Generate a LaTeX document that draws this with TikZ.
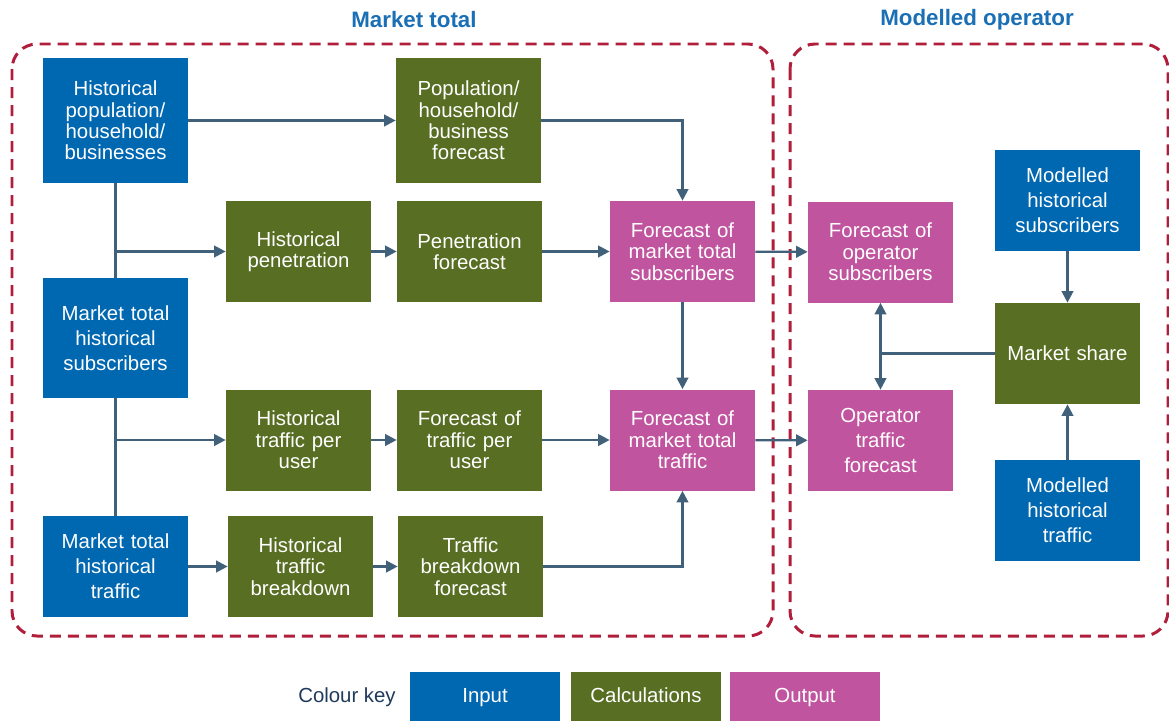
\documentclass[tikz,border=0pt]{standalone}
\usepackage{fontspec}
\setmainfont{Liberation Sans}
\usetikzlibrary{arrows.meta}
\definecolor{inblue}{HTML}{0067B1}
\definecolor{calcgreen}{HTML}{586E23}
\definecolor{outpink}{HTML}{C0549E}
\definecolor{linkgrey}{HTML}{41607A}
\definecolor{framered}{HTML}{B01E3C}
\definecolor{titleblue}{HTML}{1A6FB5}
\definecolor{keynavy}{HTML}{1F3A5A}

\begin{document}
\begin{tikzpicture}[
  every node/.style={font=\fontsize{11.6}{12.2}\selectfont,align=center,text=white,
    minimum width=2.9cm,minimum height=2.02cm,inner sep=1pt,text width=2.8cm},
  loose/.style={font=\fontsize{11.6}{14.2}\selectfont},
  inbox/.style={fill=inblue,loose},
  calcbox/.style={fill=calcgreen},
  outbox/.style={fill=outpink},
  link/.style={draw=linkgrey,line width=1.3pt,-{Triangle[length=2.3mm,width=2.3mm]}},
  plainlink/.style={draw=linkgrey,line width=1.3pt},
  frame/.style={draw=framered,line width=1.7pt,dash pattern=on 2.2mm off 1.4mm,rounded corners=0.5cm},
  title/.style={font=\fontsize{12.7}{14}\bfseries,text=titleblue,minimum width=0,minimum height=0,text width=},
  keybox/.style={minimum width=3cm,minimum height=1cm,text width=,text height=8.4pt,text depth=2.6pt}
]
\useasboundingbox (0,0) rectangle (23.38,-14.4);

\draw[frame] (0.24,-0.88) rectangle (15.46,-12.72);
\draw[frame] (15.8,-0.88) rectangle (23.36,-12.72);
\node[title] (ttlmarket) at (8.28,-0.4) {Market total};
\node[title] (ttlop) at (19.54,-0.4) {Modelled operator};

\node[inbox,minimum height=2.5cm,font=\fontsize{11.6}{12.2}\selectfont] (histpop) at (2.31,-2.41) {Historical\\population/\\household/\\businesses};
\node[calcbox,minimum height=2.5cm] (popfc) at (9.37,-2.41) {Population/\\household/\\business\\forecast};
\node[calcbox] (histpen) at (5.97,-5.03) {Historical\\penetration};
\node[calcbox] (penfc) at (9.39,-5.03) {Penetration\\forecast};
\node[outbox] (mktsubs) at (13.65,-5.03) {Forecast of\\market total\\subscribers};
\node[inbox,minimum height=2.4cm] (histsubs) at (2.31,-6.76) {Market total\\historical\\subscribers};
\node[calcbox] (histtpu) at (5.97,-8.8) {Historical\\traffic per\\user};
\node[calcbox] (fctpu) at (9.39,-8.8) {Forecast of\\traffic per\\user};
\node[outbox] (mkttraffic) at (13.65,-8.8) {Forecast of\\market total\\traffic};
\node[inbox] (histtraffic) at (2.31,-11.33) {Market total\\historical\\traffic};
\node[calcbox] (histtb) at (6.01,-11.33) {Historical\\traffic\\breakdown};
\node[calcbox] (tbfc) at (9.41,-11.33) {Traffic\\breakdown\\forecast};

\node[outbox] (opsubs) at (17.61,-5.04) {Forecast of\\operator\\subscribers};
\node[outbox,loose] (optraffic) at (17.61,-8.81) {Operator\\traffic\\forecast};
\node[inbox] (modsubs) at (21.35,-4.01) {Modelled\\historical\\subscribers};
\node[calcbox] (mktshare) at (21.35,-7.07) {Market share};
\node[inbox] (modtraffic) at (21.35,-10.21) {Modelled\\historical\\traffic};

\draw[link] (histpop) -- (popfc);
\draw[plainlink] (histpop) -- (histsubs);
\draw[plainlink] (histsubs) -- (histtraffic);
\draw[link] (histpop.south |- histpen.west) -- (histpen);
\draw[link] (histsubs.south |- histtpu.west) -- (histtpu);
\draw[link] (histpen) -- (penfc);
\draw[link] (penfc) -- (mktsubs);
\draw[link] (popfc.east) -| (mktsubs.north);
\draw[link] (mktsubs) -- (mkttraffic);
\draw[link] (histtpu) -- (fctpu);
\draw[link] (fctpu) -- (mkttraffic);
\draw[link] (histtraffic) -- (histtb);
\draw[link] (histtb) -- (tbfc);
\draw[link] (tbfc.east) -| (mkttraffic.south);
\draw[link] (mktsubs) -- (opsubs);
\draw[link] (mkttraffic) -- (optraffic);
\draw[link] (modsubs) -- (mktshare);
\draw[link] (modtraffic) -- (mktshare);
\coordinate (split) at (opsubs.south |- mktshare.west);
\draw[plainlink] (mktshare) -- (split);
\draw[link] (split) -- (opsubs);
\draw[link] (split) -- (optraffic);

\node[minimum width=0,minimum height=0,text width=,text=keynavy] (keylabel) at (6.94,-13.94) {Colour key};
\node[inbox,keybox] (keyin) at (9.7,-13.94) {Input};
\node[calcbox,keybox] (keycalc) at (12.92,-13.94) {Calculations};
\node[outbox,keybox] (keyout) at (16.1,-13.94) {Output};
\end{tikzpicture}
\end{document}
